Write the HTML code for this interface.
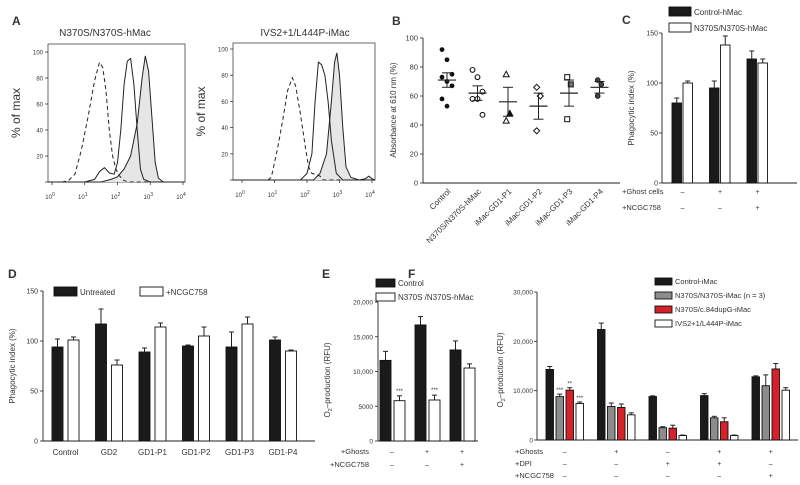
<!DOCTYPE html>
<html><head><meta charset="utf-8"><style>
body{margin:0;background:#fff}
svg{display:block;font-family:"Liberation Sans",sans-serif;fill:#333}
text{fill:#333}
</style></head><body>
<svg id="fig" width="800" height="485" viewBox="0 0 800 485"></svg>
<script>
// ===== Panel A data =====
const histLeftDashed=[[0.3,0],[0.5,1],[0.7,6],[0.9,25],[1.1,50],[1.3,78],[1.45,92],[1.55,88],[1.65,70],[1.75,40],[1.85,20],[1.95,10],[2.05,5],[2.2,1],[2.4,0]];
const histLeftSolid=[[1.0,0],[1.3,2],[1.45,8],[1.6,11],[1.75,7],[1.9,6],[2.0,15],[2.1,40],[2.2,75],[2.3,93],[2.4,95],[2.5,75],[2.6,40],[2.7,10],[2.8,2],[3.0,0]];
const histLeftFilled=[[1.5,0],[1.8,2],[2.0,4],[2.2,10],[2.4,20],[2.6,45],[2.75,80],[2.85,97],[2.95,85],[3.05,50],[3.15,15],[3.25,3],[3.4,0]];
const histRightDashed=[[0.8,0],[0.9,2],[1.1,25],[1.25,45],[1.4,68],[1.55,78],[1.65,72],[1.8,50],[1.95,25],[2.05,10],[2.15,5],[2.3,4],[2.4,3],[2.5,0]];
const histRightSolid=[[1.8,0],[2.0,5],[2.15,20],[2.25,60],[2.35,90],[2.45,88],[2.55,80],[2.65,60],[2.75,30],[2.9,5],[3.1,0]];
const histRightFilled=[[2.2,0],[2.4,5],[2.6,20],[2.75,60],[2.85,90],[2.92,97],[3.0,80],[3.1,40],[3.2,10],[3.35,2],[3.6,0],[3.8,1],[3.9,3],[4.0,1]];
const histYTicks=[0,20,40,60,80,100];
const histXTicks=[0,1,2,3,4];
// ===== Panel B data =====
const bCategories=["Control","N370S/N370S-hMac","iMac-GD1-P1","iMac-GD1-P2","iMac-GD1-P3","iMac-GD1-P4"];
const bPoints=[[92,85,75,73,70,67,58,53],[78,73,63,58,58,47],[75,48,43],[66,60,36],[73,68,44],[71,68,60]];
const bMeans=[71,62,56,53,62,66];
const bSem=[5,5,10,9,9,4];
const bYTicks=[0,20,40,60,80,100];
// ===== Panel C data =====
const cGroups=["1","2","3"];
const cControl=[80,95,124];
const cControlErr=[5,7,8];
const cMutant=[100,138,120];
const cMutantErr=[2,9,4];
const cYTicks=[0,50,100,150];
const cGhost=["–","+","+"];
const cNcgc=["–","–","+"];
// ===== Panel D data =====
const dCategories=["Control","GD2","GD1-P1","GD1-P2","GD1-P3","GD1-P4"];
const dUntreated=[94,117,89,95,94,101];
const dUntreatedErr=[8,15,4,1,15,3];
const dTreated=[101,76,114,105,117,90];
const dTreatedErr=[3,5,4,9,7,1];
const dYTicks=[0,50,100,150];
// ===== Panel E data =====
const eControl=[11600,16700,13100];
const eControlErr=[1300,1200,1300];
const eMutant=[5800,5900,10500];
const eMutantErr=[700,700,600];
const eStars=["***","***",""];
const eYTicks=[0,5000,10000,15000,20000];
const eYTickLabels=["0","5000","10,000","15,000","20,000"];
const eGhost=["–","+","+"];
const eNcgc=["–","–","+"];
// ===== Panel F data =====
const fControl=[14300,22400,8800,9000,12800];
const fControlErr=[600,1300,150,400,200];
const fN370S=[8800,6800,2500,4500,11000];
const fN370SErr=[500,700,200,300,2200];
const fDup=[10100,6600,2400,3700,14400];
const fDupErr=[500,700,600,800,1100];
const fIVS=[7400,5100,900,900,10100];
const fIVSErr=[300,400,100,100,500];
const fStars=[["","***","**","***"],["","","",""],["","","",""],["","","",""],["","","",""]];
const fYTicks=[0,10000,20000,30000];
const fYTickLabels=["0","10,000","20,000","30,000"];
const fGhost=["–","+","–","+","+"];
const fDpi=["–","–","+","+","–"];
const fNcgc=["–","–","–","–","+"];

const NS="http://www.w3.org/2000/svg";
const svg=document.getElementById('fig');
function el(tag,attrs,parent,txt){const e=document.createElementNS(NS,tag);for(const k in attrs)e.setAttribute(k,attrs[k]);if(txt!==undefined)e.textContent=txt;(parent||svg).appendChild(e);return e;}
function txt(x,y,s,size,name,anchor,extra){const t=el('text',Object.assign({x:x,y:y,'font-size':size,'text-anchor':anchor||'start'},extra||{}),null,s);


return t;}
function line(x1,y1,x2,y2,name,w){const l=el('line',{x1:x1,y1:y1,x2:x2,y2:y2,stroke:'#222','stroke-width':w||1});


return l;}
function yLinear(v,vmax,y0,y1){return y0-(v/vmax)*(y0-y1);}

// ===== Panel labels =====
[["A",12,25],["B",392,25],["C",622,24],["D",8,278],["E",322,278],["F",408,278]].forEach(p=>{txt(p[1],p[2],p[0],12,'panel-label-'+p[0].toLowerCase(),'start',{'font-weight':'bold'});});

// ===== Panel A =====
function histogram(cfg){
  const {bx0,bx1,by0,by1,lx0,lx1,y100,title,tx,curves,id}=cfg;
  const xs=d=>lx0+(d/4)*(lx1-lx0);
  const ys=v=>by1-(v/100)*(by1-y100);
  const r=el('rect',{x:bx0,y:by0,width:bx1-bx0,height:by1-by0,fill:'none',stroke:'#444','stroke-width':0.8});
  
  
  txt(tx,36,title,10,id+'-title','middle');
  txt(0,0,"% of max",12,id+'-y-axis-title','middle',{transform:`translate(${bx0-28},${(by0+by1)/2}) rotate(-90)`});
  histYTicks.forEach(v=>{const y=ys(v);line(bx0-3,y,bx0,y,id+'-y-tick',0.7);if(v>0)txt(bx0-5,y+2.5,String(v),6,id+'-y-tick-label','end');});
  histXTicks.forEach(d=>{const x=xs(d);line(x,by1,x,by1+3,id+'-x-tick',0.7);const t=txt(x-2,by1+17,"10",6,id+'-x-tick-label','middle');el('tspan',{dy:-3,'font-size':5},t,String(d));});
  curves.forEach(c=>{
    let d=c.pts.map((p,i)=>(i?'L':'M')+xs(p[0]).toFixed(1)+','+ys(p[1]).toFixed(1)).join(' ');
    d='M'+bx0+','+by1+' L'+d.slice(1)+' L'+bx1+','+by1;
    const p=el('path',{d:d,fill:c.fill?'#e6e6e6':'none',stroke:'#222','stroke-width':1,'stroke-dasharray':c.dash?'4,3':'none'});
    
    
  });
}
histogram({bx0:48,bx1:185,by0:44,by1:182,lx0:52,lx1:183,y100:52,title:"N370S/N370S-hMac",tx:105,id:'hist-left',
 curves:[{pts:histLeftFilled,fill:1,name:'histogram-left-filled'},{pts:histLeftSolid,name:'histogram-left-solid'},{pts:histLeftDashed,dash:1,name:'histogram-left-dashed'}]});
histogram({bx0:233,bx1:375,by0:43,by1:180,lx0:242,lx1:372,y100:49,title:"IVS2+1/L444P-iMac",tx:305,id:'hist-right',
 curves:[{pts:histRightFilled,fill:1,name:'histogram-right-filled'},{pts:histRightSolid,name:'histogram-right-solid'},{pts:histRightDashed,dash:1,name:'histogram-right-dashed'}]});

// ===== Panel B =====
(function(){
  const ax=423,y0=183,yTop=38,xEnd=620,cx0=447,step=30.5;
  const ys=v=>yLinear(v,100,y0,yTop);
  line(ax,yTop,ax,y0,'b-y-axis',0.9);line(ax,y0,xEnd,y0,'b-x-axis',0.9);
  bYTicks.forEach(v=>{line(ax-3,ys(v),ax,ys(v),'b-y-tick',0.8);txt(ax-5,ys(v)+2.5,String(v),7.5,'b-y-tick-label','end');});
  txt(0,0,"Absorbance at 610 nm (%)",8,'b-y-axis-title','middle',{transform:`translate(396,110) rotate(-90)`});
  const shapes=['dot','ring','tri','diamond','square','dot2'];
  bCategories.forEach((c,i)=>{
    const cx=cx0+i*step;
    txt(0,0,c,8,'b-x-label','end',{transform:`translate(${cx+4},${y0+9}) rotate(-45)`});
    const n=bPoints[i].length;
    bPoints[i].forEach((v,j)=>{
      const off=(n>4)?((j%3)-1)*5:((j%2)?3:-3)*0.6;
      const x=cx+off,y=ys(v);let m;const sh=shapes[i];
      if(sh==='dot'){m=el('circle',{cx:x,cy:y,r:2.4,fill:'#111'});}
      else if(sh==='ring'){m=el('circle',{cx:x,cy:y,r:2.4,fill:'#fff',stroke:'#111','stroke-width':1.1});}
      else if(sh==='tri'){m=el('path',{d:`M${x},${y-3} L${x+3},${y+2.5} L${x-3},${y+2.5}Z`,fill:j==1?'#111':'#fff',stroke:'#111','stroke-width':1});}
      else if(sh==='diamond'){m=el('path',{d:`M${x},${y-3} L${x+3},${y} L${x},${y+3} L${x-3},${y}Z`,fill:'#fff',stroke:'#111','stroke-width':1});}
      else if(sh==='square'){m=el('rect',{x:x-2.5,y:y-2.5,width:5,height:5,fill:j==1?'#777':'#fff',stroke:'#111','stroke-width':1});}
      else {m=el('circle',{cx:x,cy:y,r:2.4,fill:'#444',stroke:'#111','stroke-width':0.8});}
      
      
    });
    line(cx-9,ys(bMeans[i]),cx+9,ys(bMeans[i]),'b-mean-line',1.2);
    line(cx,ys(bMeans[i]-bSem[i]),cx,ys(bMeans[i]+bSem[i]),'b-sem-line',1);
    line(cx-5,ys(bMeans[i]+bSem[i]),cx+5,ys(bMeans[i]+bSem[i]),'b-sem-cap',1);
    line(cx-5,ys(bMeans[i]-bSem[i]),cx+5,ys(bMeans[i]-bSem[i]),'b-sem-cap',1);
  });
})();

// ===== Generic bar =====
function bar(x,w,v,err,vmax,y0,yTop,fill,name){
  const y=yLinear(v,vmax,y0,yTop),ye=yLinear(v+err,vmax,y0,yTop);
  line(x+w/2,y,x+w/2,ye,name+'-error',1);
  line(x+w/2-2.5,ye,x+w/2+2.5,ye,name+'-error-cap',1);
  const r=el('rect',{x:x,y:y,width:w,height:y0-y,fill:fill,stroke:'#111','stroke-width':0.9});
  
  
  return y;
}
function legendBox(x,y,w,h,fill,label,fs,name){
  const r=el('rect',{x:x,y:y,width:w,height:h,fill:fill,stroke:'#111','stroke-width':0.9});
  
  
  txt(x+w+3,y+h-1,label,fs,name+'-label','start');
}

// ===== Panel C =====
(function(){
  const ax=662,y0=183,yTop=33,xEnd=797,g0=672,gs=37.5,bw=9.5;
  line(ax,yTop,ax,y0,'c-y-axis',0.9);line(ax,y0,xEnd,y0,'c-x-axis',0.9);
  cYTicks.forEach(v=>{const y=yLinear(v,150,y0,yTop);line(ax-3,y,ax,y,'c-y-tick',0.8);txt(ax-4,y+2.5,String(v),7,'c-y-tick-label','end');});
  txt(0,0,"Phagocytic index (%)",8,'c-y-axis-title','middle',{transform:`translate(634,108) rotate(-90)`});
  cGroups.forEach((g,i)=>{
    const x=g0+i*gs;
    bar(x,bw,cControl[i],cControlErr[i],150,y0,yTop,'#1a1a1a','c-bar-control-'+i);
    bar(x+bw+1.5,bw,cMutant[i],cMutantErr[i],150,y0,yTop,'#fff','c-bar-mutant-'+i);
    txt(x+bw+1,194,cGhost[i],7,'c-ghost-sign','middle');
    txt(x+bw+1,210,cNcgc[i],7,'c-ncgc-sign','middle');
  });
  txt(622,194,"+Ghost cells",7.5,'c-row-ghost','start');
  txt(622,210,"+NCGC758",7.5,'c-row-ncgc','start');
  legendBox(669,7,22,9,'#1a1a1a',"Control-hMac",8,'c-legend-control');
  legendBox(669,23,22,9,'#fff',"N370S/N370S-hMac",8,'c-legend-mutant');
})();

// ===== Panel D =====
(function(){
  const ax=43,y0=441,yTop=291,xEnd=315,g0=52,gs=43.5,bw=11;
  line(ax,yTop,ax,y0,'d-y-axis',0.9);line(ax,y0,xEnd,y0,'d-x-axis',0.9);
  dYTicks.forEach(v=>{const y=yLinear(v,150,y0,yTop);line(ax-3,y,ax,y,'d-y-tick',0.8);txt(ax-5,y+2.5,String(v),7,'d-y-tick-label','end');});
  txt(0,0,"Phagocytic index (%)",8,'d-y-axis-title','middle',{transform:`translate(15,366) rotate(-90)`});
  dCategories.forEach((c,i)=>{
    const x=g0+i*gs;
    bar(x,bw,dUntreated[i],dUntreatedErr[i],150,y0,yTop,'#1a1a1a','d-bar-untreated-'+i);
    bar(x+bw+5,bw,dTreated[i],dTreatedErr[i],150,y0,yTop,'#fff','d-bar-treated-'+i);
    txt(x+bw+2.5,455,c,8,'d-x-label','middle');
  });
  legendBox(54,287,23,9,'#1a1a1a',"Untreated",8,'d-legend-untreated');
  legendBox(140,287,23,9,'#fff',"+NCGC758",8,'d-legend-treated');
})();

// ===== Panel E =====
(function(){
  const ax=378,y0=441,yTop=302,xEnd=478,g0=380,gs=35,bw=11;
  line(ax,yTop,ax,y0,'e-y-axis',0.9);line(ax,y0,xEnd,y0,'e-x-axis',0.9);
  eYTicks.forEach((v,k)=>{const y=yLinear(v,20000,y0,yTop);line(ax-3,y,ax,y,'e-y-tick',0.8);txt(ax-5,y+2.5,eYTickLabels[k],6.5,'e-y-tick-label','end');});
  const t=txt(0,0,"O",8,'e-y-axis-title','middle',{transform:`translate(330,380) rotate(-90)`});
  el('tspan',{'font-size':5.5,dy:2},t,"2");el('tspan',{dy:-2},t,"–production (RFU)");
  eControl.forEach((v,i)=>{
    const x=g0+i*gs;
    bar(x,bw,v,eControlErr[i],20000,y0,yTop,'#1a1a1a','e-bar-control-'+i);
    const ye=yLinear(eMutant[i]+eMutantErr[i],20000,y0,yTop);
    bar(x+bw+3,bw,eMutant[i],eMutantErr[i],20000,y0,yTop,'#fff','e-bar-mutant-'+i);
    if(eStars[i])txt(x+bw+3+bw/2,ye-3,eStars[i],6,'e-significance','middle');
    txt(x+bw+1,454,eGhost[i],7,'e-ghost-sign','middle');
    txt(x+bw+1,467,eNcgc[i],7,'e-ncgc-sign','middle');
  });
  txt(369,454,"+Ghosts",7.5,'e-row-ghost','end');
  txt(369,467,"+NCGC758",7.5,'e-row-ncgc','end');
  legendBox(376,279,19,8,'#1a1a1a',"Control",8,'e-legend-control');
  legendBox(376,293,19,8,'#fff',"N370S /N370S-hMac",8,'e-legend-mutant');
})();

// ===== Panel F =====
(function(){
  const ax=537,y0=440,yTop=292,xEnd=798,g0=546,gs=51.5,bw=7.5,gap=2.5;
  line(ax,yTop,ax,y0,'f-y-axis',0.9);line(ax,y0,xEnd,y0,'f-x-axis',0.9);
  fYTicks.forEach((v,k)=>{const y=yLinear(v,30000,y0,yTop);line(ax-3,y,ax,y,'f-y-tick',0.8);txt(ax-4,y+2.5,fYTickLabels[k],6.5,'f-y-tick-label','end');});
  const t=txt(0,0,"O",8,'f-y-axis-title','middle',{transform:`translate(503,370) rotate(-90)`});
  el('tspan',{'font-size':5.5,dy:2},t,"2");el('tspan',{dy:-2},t,"–production (RFU)");
  const series=[[fControl,fControlErr,'#1a1a1a','control'],[fN370S,fN370SErr,'#8c8c8c','n370s'],[fDup,fDupErr,'#d6202a','dup'],[fIVS,fIVSErr,'#fff','ivs']];
  fControl.forEach((_,i)=>{
    const x=g0+i*gs;
    series.forEach((s,k)=>{
      const bx=x+k*(bw+gap);
      bar(bx,bw,s[0][i],s[1][i],30000,y0,yTop,s[2],'f-bar-'+s[3]+'-'+i);
      const ye=yLinear(s[0][i]+s[1][i],30000,y0,yTop);
      if(fStars[i][k])txt(bx+bw/2,ye-2,fStars[i][k],6,'f-significance','middle');
    });
    const cx=x+2*(bw+gap)-gap/2;
    txt(cx,454,fGhost[i],7,'f-ghost-sign','middle');
    txt(cx,466,fDpi[i],7,'f-dpi-sign','middle');
    txt(cx,478,fNcgc[i],7,'f-ncgc-sign','middle');
  });
  txt(515,454,"+Ghosts",7.5,'f-row-ghost','start');
  txt(515,466,"+DPI",7.5,'f-row-dpi','start');
  txt(515,478,"+NCGC758",7.5,'f-row-ncgc','start');
  legendBox(655,278,17,7,'#1a1a1a',"Control-iMac",7.5,'f-legend-control');
  legendBox(655,292,17,7,'#8c8c8c',"N370S/N370S-iMac (n = 3)",7.5,'f-legend-n370s');
  legendBox(655,306,17,7,'#d6202a',"N370S/c.84dupG-iMac",7.5,'f-legend-dup');
  legendBox(655,320,17,7,'#fff',"IVS2+1/L444P-iMac",7.5,'f-legend-ivs');
})();
</script>
</body></html>
